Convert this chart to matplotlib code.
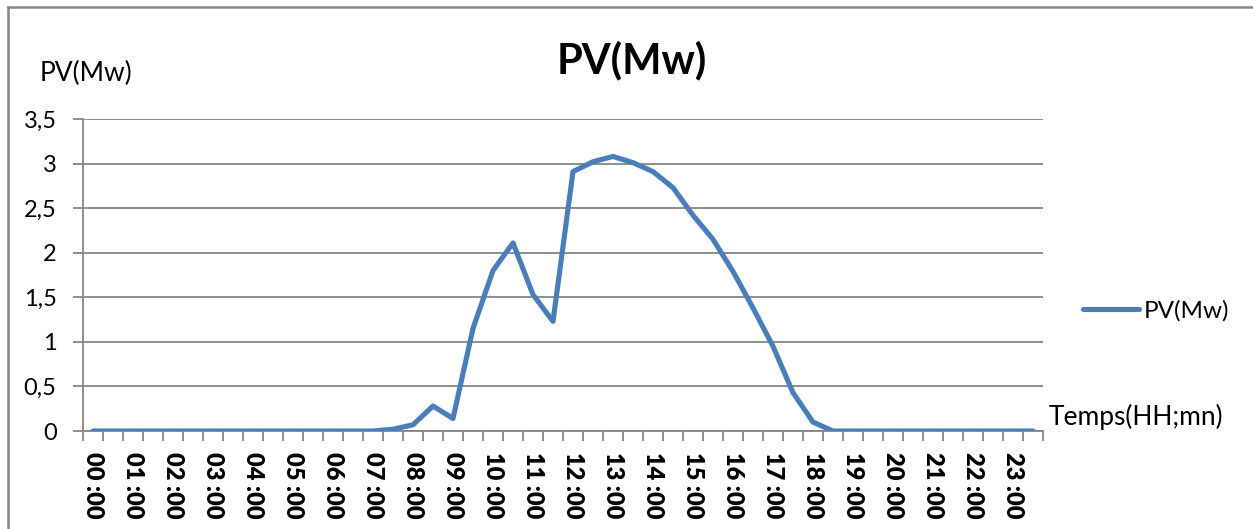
import matplotlib.pyplot as plt
from matplotlib.lines import Line2D
from matplotlib.ticker import FixedLocator, FuncFormatter

# --- DATA (half-hourly PV output, 00:00 -> 23:30) ---
PV_MW = [0, 0, 0, 0, 0, 0, 0, 0, 0, 0, 0, 0, 0, 0,
         0, 0.02, 0.07, 0.28, 0.14, 1.15, 1.80, 2.11, 1.53, 1.23,
         2.91, 3.02, 3.08, 3.01, 2.91, 2.73, 2.42, 2.15, 1.79, 1.38,
         0.95, 0.43, 0.10, 0,
         0, 0, 0, 0, 0, 0, 0, 0, 0, 0]
HOUR_LABELS = ['00 :00', '01 :00', '02 :00', '03 :00', '04 :00', '05 :00',
               '06 :00', '07 :00', '08 :00', '09 :00', '10 :00', '11 :00',
               '12 :00', '13 :00', '14 :00', '15 :00', '16 :00', '17 :00',
               '18 :00', '19 :00', '20 :00', '21 :00', '22 :00', '23 :00']
Y_TICKS = [0, 0.5, 1, 1.5, 2, 2.5, 3, 3.5]

W, H = 1253, 529
LINE_COLOR = '#4a7ebb'
GRID_COLOR = '#868686'

plt.rcParams['font.family'] = ['Lato', 'DejaVu Sans']

fig = plt.figure(figsize=(W / 100, H / 100), dpi=100)
ax = fig.add_axes([83 / W, 1 - 431 / H, 960 / W, 312 / H])

x = list(range(len(PV_MW)))
ax.plot(x, PV_MW, color=LINE_COLOR, lw=3.7, solid_joinstyle='round',
        solid_capstyle='round', label='PV(Mw)', zorder=3)

# y axis
ax.set_ylim(0, 3.5)
ax.set_yticks(Y_TICKS)
ax.yaxis.set_major_formatter(FuncFormatter(lambda v, p: f'{v:g}'.replace('.', ',')))
ax.grid(axis='y', color=GRID_COLOR, lw=1.3)
ax.tick_params(axis='y', length=7, width=1.3, color=GRID_COLOR, pad=12,
               labelsize=17)

# x axis: category boundaries as tick marks, hourly labels
ax.set_xlim(-0.5, len(PV_MW) - 0.5)
ax.set_xticks(range(0, len(PV_MW), 2))
ax.set_xticklabels(HOUR_LABELS, rotation=-90, fontweight='heavy', fontsize=17)
ax.xaxis.set_minor_locator(FixedLocator([i - 0.5 for i in range(len(PV_MW) + 1)]))
ax.tick_params(axis='x', which='major', length=0, pad=15)
ax.tick_params(axis='x', which='minor', length=7, width=1.3, color=GRID_COLOR)

for side in ['top', 'right']:
    ax.spines[side].set_visible(False)
for side in ['left', 'bottom']:
    ax.spines[side].set_color(GRID_COLOR)
    ax.spines[side].set_linewidth(1.3)
ax.set_axisbelow(True)

# titles / labels
fig.text(632 / W, 1 - 60 / H, 'PV(Mw)', ha='center', va='center',
         fontsize=30, fontweight='bold')
fig.text(40 / W, 1 - 73 / H, 'PV(Mw)', ha='left', va='center', fontsize=19)
fig.text(1049 / W, 1 - 417 / H, 'Temps(HH;mn)', ha='left', va='center',
         fontsize=19)

ax.legend(loc='center left', bbox_to_anchor=(1083 / W, 1 - 311 / H),
          bbox_transform=fig.transFigure, frameon=False, fontsize=17.5,
          handlelength=2.3, handletextpad=0.2, borderpad=0, borderaxespad=0)

# chart-area border (only left and top edges visible)
fig.add_artist(Line2D([8 / W, 8 / W], [0, 1 - 7 / H], color=GRID_COLOR,
                      lw=1.8, transform=fig.transFigure))
fig.add_artist(Line2D([8 / W, 1], [1 - 7 / H, 1 - 7 / H], color=GRID_COLOR,
                      lw=1.8, transform=fig.transFigure))

fig.savefig('out.png', dpi=100)
